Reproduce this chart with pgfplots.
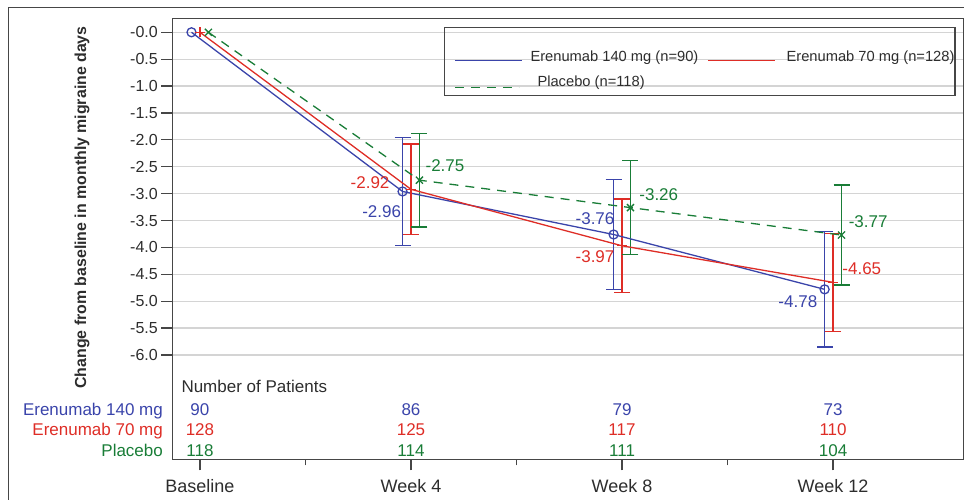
\documentclass[border=0pt]{standalone}
\usepackage{fontspec}
\setmainfont{Liberation Sans}
\usepackage{pgfplots}
\usepackage{pgfplotstable}
\pgfplotsset{compat=1.18}
\definecolor{cblue}{RGB}{58,68,170}
\definecolor{cred}{RGB}{222,45,38}
\definecolor{cgreen}{RGB}{25,125,55}
\definecolor{axgray}{RGB}{70,70,70}
\definecolor{gridgray}{RGB}{212,212,212}
\definecolor{txt}{RGB}{45,45,45}

\pgfplotstableread{
x y e
-0.04 0 0
0.96 -2.96 1.01
1.96 -3.76 1.02
2.96 -4.78 1.07
}\tblue
\pgfplotstableread{
x y e
0 0 0
1 -2.92 0.84
2 -3.97 0.87
3 -4.65 0.91
}\tred
\pgfplotstableread{
x y e
0.04 0 0
1.04 -2.75 0.87
2.04 -3.26 0.87
3.04 -3.77 0.93
}\tgreen

\begin{document}
\begin{tikzpicture}
\useasboundingbox (-172.3bp,-40.7bp) rectangle (791.7bp,459.3bp);
\draw[axgray, line width=1bp] (-164bp,-40.7bp) -- (-164bp,452bp) -- (791.7bp,452bp);
\begin{axis}[
  at={(0,0)}, anchor=south west,
  scale only axis, width=791bp, height=441bp,
  xmin=-0.131, xmax=3.617, ymin=-7.94, ymax=0.26,
  clip=false,
  axis line style={axgray, line width=1.5bp},
  xtick={0,1,2,3}, xticklabels={Baseline,Week 4,Week 8,Week 12},
  minor xtick={0.5,1.5,2.5},
  ytick={-6,-5.5,-5,-4.5,-4,-3.5,-3,-2.5,-2,-1.5,-1,-0.5,0},
  yticklabels={-6.0,-5.5,-5.0,-4.5,-4.0,-3.5,-3.0,-2.5,-2.0,-1.5,-1.0,-0.5,-0.0},
  tick align=outside, xtick pos=bottom, ytick pos=left,
  major tick length=11bp, minor tick length=6bp,
  tick style={axgray, line width=1.3bp},
  ymajorgrids, grid style={gridgray, line width=1.3bp},
  yticklabel style={font=\fontsize{16bp}{18bp}\selectfont, text=txt},
  xticklabel style={font=\fontsize{18bp}{20bp}\selectfont, text=txt, anchor=base, yshift=-22bp},
  ylabel={Change from baseline in monthly migraine days},
  ylabel style={at={(rel axis cs:-0.1142,0.571)}, anchor=center, rotate=0,
    font=\bfseries\fontsize{15.9bp}{18bp}\selectfont, text=txt},
  legend style={draw=none, fill=none, inner sep=0pt,
    at={(rel axis cs:0.356,0.927)}, anchor=north west,
    font=\fontsize{14.7bp}{17bp}\selectfont,
    nodes={inner sep=0pt, text height=10.5bp, text depth=3bp},
    row sep=11.5bp,
    /tikz/every odd column/.append style={column sep=8bp},
    /tikz/every even column/.append style={column sep=6.7bp}},
  legend columns=2, legend cell align=left,
]
% error bars
\addplot[forget plot, draw=none, mark=none, skip coords between index={0}{1},
  error bars/.cd, y dir=both, y explicit,
  error bar style={draw=cblue, line width=1.3bp, solid},
  error mark options={rotate=90, draw=cblue, mark size=8bp, line width=1.3bp, solid}]
  table[x=x, y=y, y error=e] {\tblue};
\addplot[forget plot, draw=none, mark=none, skip coords between index={0}{1},
  error bars/.cd, y dir=both, y explicit,
  error bar style={draw=cred, line width=1.3bp, solid},
  error mark options={rotate=90, draw=cred, mark size=8bp, line width=1.3bp, solid}]
  table[x=x, y=y, y error=e] {\tred};
\addplot[forget plot, draw=none, mark=none, skip coords between index={0}{1},
  error bars/.cd, y dir=both, y explicit,
  error bar style={draw=cgreen, line width=1.3bp, solid},
  error mark options={rotate=90, draw=cgreen, mark size=8bp, line width=1.3bp, solid}]
  table[x=x, y=y, y error=e] {\tgreen};
% lines
\addplot[forget plot, cblue, line width=1.3bp, mark=o, mark size=4.5bp, mark options={solid}]
  table[x=x, y=y] {\tblue};
\addplot[forget plot, cred, line width=1.3bp, mark=+, mark size=5bp, mark options={solid}]
  table[x=x, y=y] {\tred};
\addplot[forget plot, cgreen, line width=1.3bp, dash pattern=on 9bp off 7bp, mark=x, mark size=5bp, mark options={solid}]
  table[x=x, y=y] {\tgreen};
\addlegendimage{legend image code/.code={\draw[cblue, line width=1.4bp] (0bp,-3.2bp) -- (67bp,-3.2bp);}}
\addlegendentry{\makebox[170bp][l]{\color{txt}Erenumab 140 mg (n=90)}}
\addlegendimage{legend image code/.code={\draw[cred, line width=1.4bp] (0bp,-3.2bp) -- (67bp,-3.2bp);}}
\addlegendentry{\hspace{3bp}\color{txt}Erenumab 70 mg (n=128)}
\addlegendimage{legend image code/.code={\draw[cgreen, line width=1.4bp, dash pattern=on 9bp off 7bp] (0bp,-5bp) -- (64bp,-5bp);}}
\addlegendentry{\hspace{7bp}\color{txt}Placebo (n=118)}
% data labels
\begin{scope}[font=\fontsize{17bp}{19bp}\selectfont]
\node[text=cred] at (axis cs:0.806,-2.796) {-2.92};
\node[text=cblue] at (axis cs:0.861,-3.335) {-2.96};
\node[text=cgreen] at (axis cs:1.161,-2.480) {-2.75};
\node[text=cblue] at (axis cs:1.872,-3.458) {-3.76};
\node[text=cgreen] at (axis cs:2.174,-3.011) {-3.26};
\node[text=cred] at (axis cs:1.872,-4.171) {-3.97};
\node[text=cgreen] at (axis cs:3.166,-3.520) {-3.77};
\node[text=cred] at (axis cs:3.136,-4.387) {-4.65};
\node[text=cblue] at (axis cs:2.833,-5.007) {-4.78};
\end{scope}
% number of patients
\begin{scope}[font=\fontsize{17bp}{19bp}\selectfont]
\node[anchor=base west, text=txt] at (axis cs:-0.104,-6.699) {Number of Patients};
\node[anchor=base east, text=cblue] at (axis cs:-0.159,-7.126) {Erenumab 140 mg};
\node[anchor=base east, text=cred] at (axis cs:-0.159,-7.498) {Erenumab 70 mg};
\node[anchor=base east, text=cgreen] at (axis cs:-0.159,-7.888) {Placebo};
\node[anchor=base, text=cblue] at (axis cs:0,-7.126) {90};
\node[anchor=base, text=cblue] at (axis cs:1,-7.126) {86};
\node[anchor=base, text=cblue] at (axis cs:2,-7.126) {79};
\node[anchor=base, text=cblue] at (axis cs:3,-7.126) {73};
\node[anchor=base, text=cred] at (axis cs:0,-7.498) {128};
\node[anchor=base, text=cred] at (axis cs:1,-7.498) {125};
\node[anchor=base, text=cred] at (axis cs:2,-7.498) {117};
\node[anchor=base, text=cred] at (axis cs:3,-7.498) {110};
\node[anchor=base, text=cgreen] at (axis cs:0,-7.888) {118};
\node[anchor=base, text=cgreen] at (axis cs:1,-7.888) {114};
\node[anchor=base, text=cgreen] at (axis cs:2,-7.888) {111};
\node[anchor=base, text=cgreen] at (axis cs:3,-7.888) {104};
\end{scope}
% legend frame
\draw[axgray, line width=1.5bp] (rel axis cs:0.3440,0.9787) rectangle (rel axis cs:0.9898,0.8245);
\end{axis}
\end{tikzpicture}
\end{document}
